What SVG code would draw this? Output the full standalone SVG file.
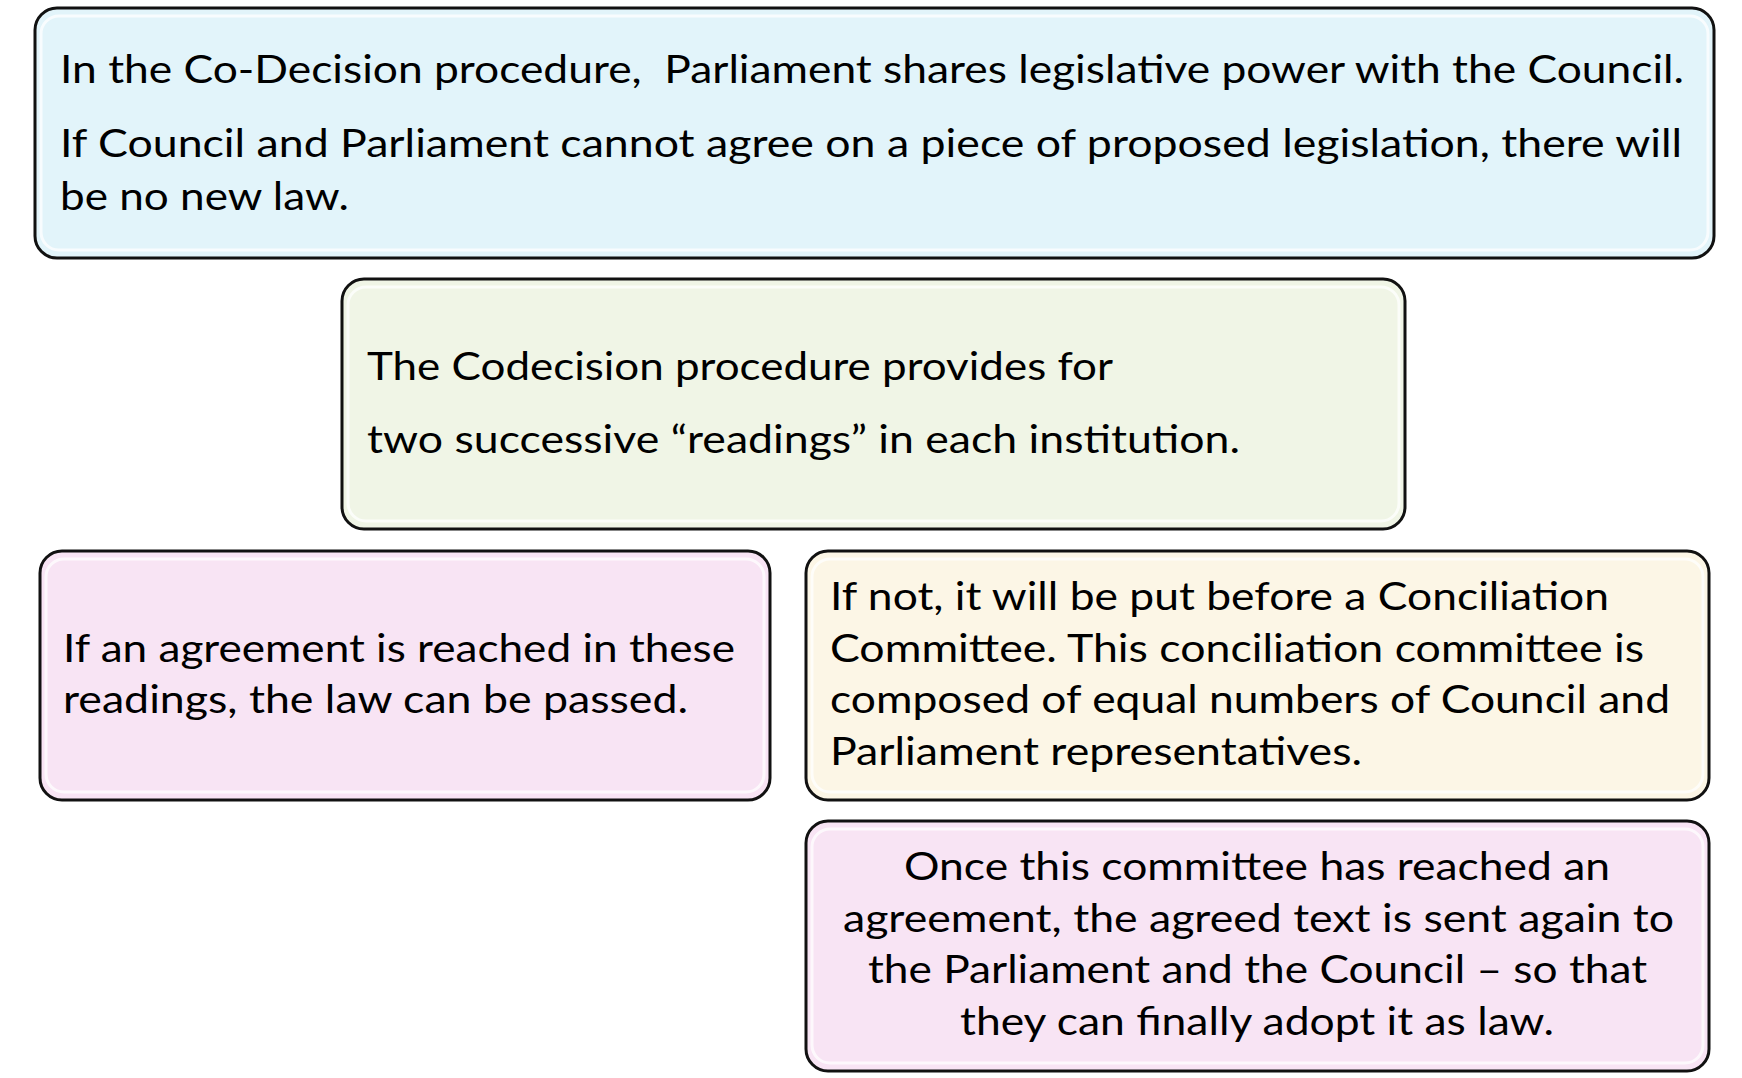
<svg xmlns="http://www.w3.org/2000/svg" width="1742" height="1078" viewBox="0 0 1742 1078">
<style>
.box{stroke:#111;stroke-width:3}
.shine{fill:none;stroke:#fff;stroke-width:3;stroke-opacity:0.75}
.t{font-family:Lato,"Liberation Sans","Open Sans",sans-serif;font-size:38px;fill:#000}
.blue{fill:#E2F4FA}
.green{fill:#F0F5E6}
.pink{fill:#F8E4F4}
.cream{fill:#FCF6E6}
</style>
<rect width="1742" height="1078" fill="#fff"/>
<g id="connectors"/>
<g id="intro">
<rect class="box blue" x="35" y="8" width="1679" height="250" rx="22"/>
<rect class="shine" x="41" y="16" width="1667" height="234" rx="18"/>
<text class="t" x="60" y="83" textLength="1624" lengthAdjust="spacingAndGlyphs" xml:space="preserve">In the Co-Decision procedure,  Parliament shares legislative power with the Council.</text>
<text class="t" x="60" y="157" textLength="1622" lengthAdjust="spacingAndGlyphs">If Council and Parliament cannot agree on a piece of proposed legislation, there will</text>
<text class="t" x="60" y="210" textLength="289" lengthAdjust="spacingAndGlyphs">be no new law.</text>
</g>
<g id="readings">
<rect class="box green" x="342" y="279" width="1063" height="250" rx="22"/>
<rect class="shine" x="348" y="287" width="1051" height="234" rx="18"/>
<text class="t" x="367" y="380" textLength="746" lengthAdjust="spacingAndGlyphs">The Codecision procedure provides for</text>
<text class="t" x="367" y="453" textLength="873" lengthAdjust="spacingAndGlyphs">two successive “readings” in each institution.</text>
</g>
<g id="agreement">
<rect class="box pink" x="40" y="551" width="730" height="249" rx="22"/>
<rect class="shine" x="46" y="559" width="718" height="233" rx="18"/>
<text class="t" x="63" y="662" textLength="672" lengthAdjust="spacingAndGlyphs">If an agreement is reached in these</text>
<text class="t" x="63" y="713" textLength="625" lengthAdjust="spacingAndGlyphs">readings, the law can be passed.</text>
</g>
<g id="conciliation">
<rect class="box cream" x="806" y="551" width="903" height="249" rx="22"/>
<rect class="shine" x="812" y="559" width="891" height="233" rx="18"/>
<text class="t" x="830" y="610" textLength="779" lengthAdjust="spacingAndGlyphs">If not, it will be put before a Conciliation</text>
<text class="t" x="830" y="662" textLength="814" lengthAdjust="spacingAndGlyphs">Committee. This conciliation committee is</text>
<text class="t" x="830" y="713" textLength="840" lengthAdjust="spacingAndGlyphs">composed of equal numbers of Council and</text>
<text class="t" x="830" y="765" textLength="532" lengthAdjust="spacingAndGlyphs">Parliament representatives.</text>
</g>
<g id="adoption">
<rect class="box pink" x="806" y="821" width="903" height="250" rx="22"/>
<rect class="shine" x="812" y="829" width="891" height="234" rx="18"/>
<text class="t" x="904" y="880" textLength="706" lengthAdjust="spacingAndGlyphs">Once this committee has reached an</text>
<text class="t" x="843" y="932" textLength="831" lengthAdjust="spacingAndGlyphs">agreement, the agreed text is sent again to</text>
<text class="t" x="868" y="983" textLength="779" lengthAdjust="spacingAndGlyphs">the Parliament and the Council – so that</text>
<text class="t" x="960" y="1035" textLength="594" lengthAdjust="spacingAndGlyphs">they can finally adopt it as law.</text>
</g>
</svg>
